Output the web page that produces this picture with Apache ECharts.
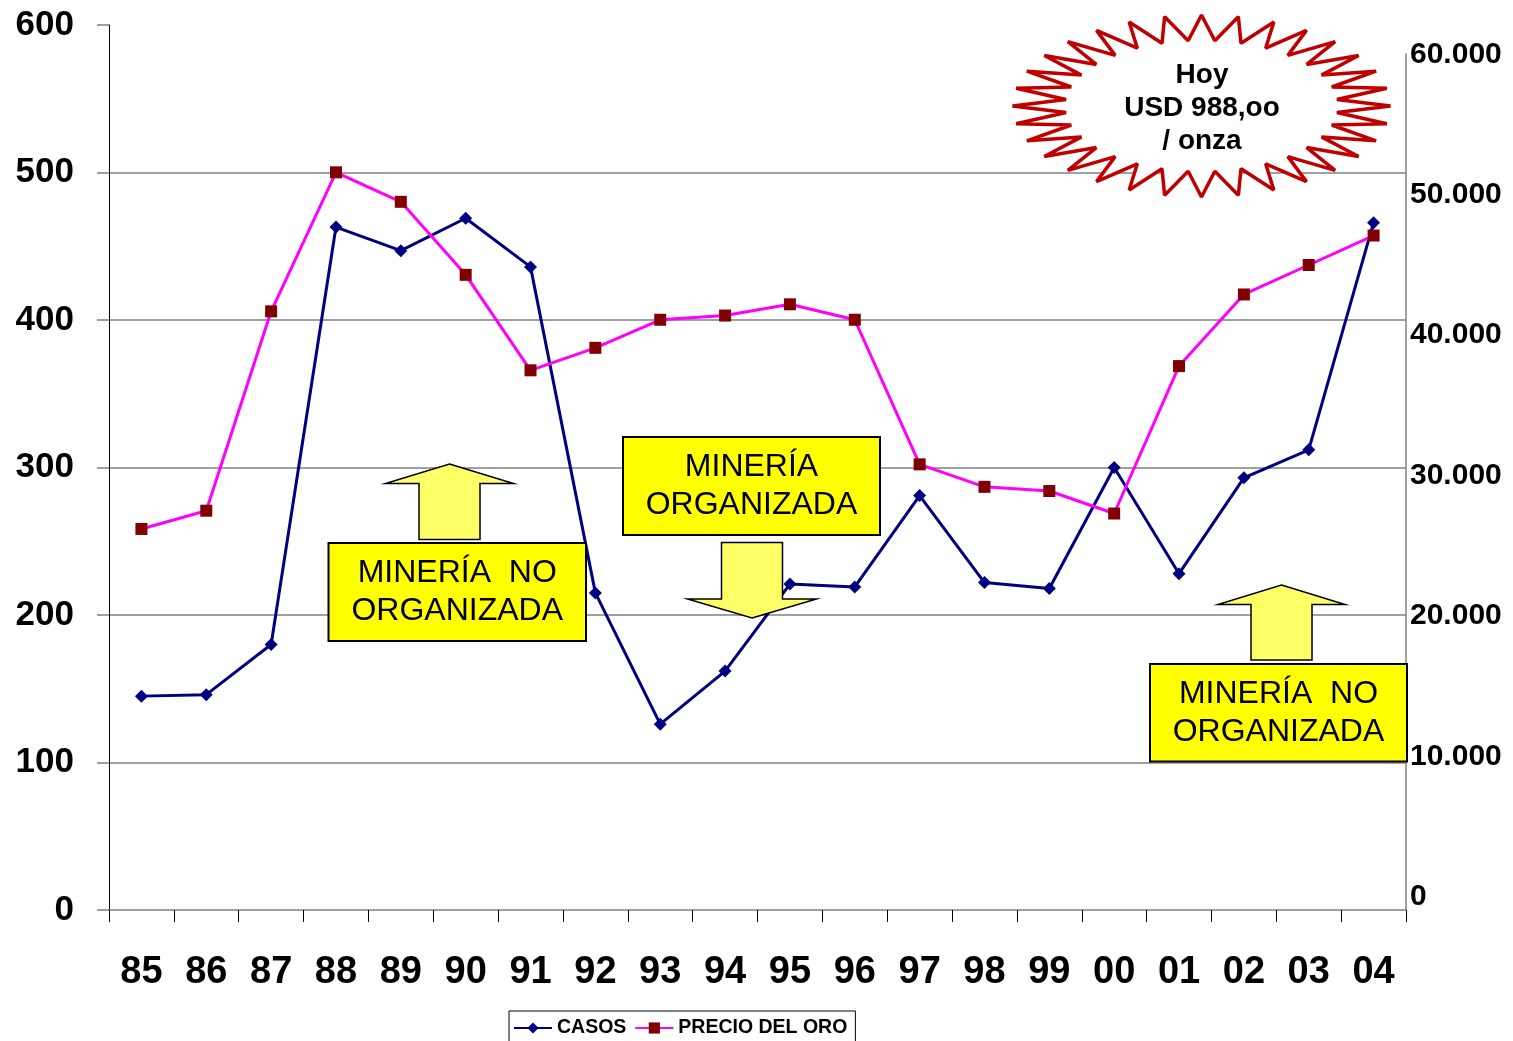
<!DOCTYPE html>
<html>
<head>
<meta charset="utf-8">
<script src="https://cdn.jsdelivr.net/npm/echarts@6/dist/echarts.min.js"></script>
<style>
  html, body { margin: 0; padding: 0; background: #ffffff; }
  #chart { width: 1513px; height: 1041px; }
</style>
</head>
<body>
<div id="chart"></div>
<script>
// Years on the category axis
const years = ['85', '86', '87', '88', '89', '90', '91', '92', '93', '94',
               '95', '96', '97', '98', '99', '00', '01', '02', '03', '04'];

// Number of cases per year (left axis)
const casos = [145, 146, 180, 463, 447, 469, 436, 215, 126, 162,
               221, 219, 281, 222, 218, 300, 228, 293, 312, 466];

// Gold price per year (right axis)
const precioOro = [26200, 27500, 41700, 51600, 49500, 44300, 37500, 39100, 41100, 41400,
                   42200, 41100, 30800, 29200, 28900, 27300, 37800, 42900, 45000, 47100];

// Axis tick values
const casosTicks = [0, 100, 200, 300, 400, 500, 600];
const precioTicks = [0, 10000, 20000, 30000, 40000, 50000, 60000];

// Series names
const seriesNames = ['CASOS', 'PRECIO DEL ORO'];

// Annotation texts
const notaHoy = 'Hoy\nUSD 988,oo\n/ onza';
const notaNoOrganizada = 'MINERÍA  NO\nORGANIZADA';
const notaOrganizada = 'MINERÍA\nORGANIZADA';

const FONT = '"Liberation Sans", Arial, sans-serif';

function miles(v) {
  return String(v).replace(/\B(?=(\d{3})+(?!\d))/g, '.');
}

// Jagged "explosion" outline around an ellipse
function starburst(cx, cy, rx, ry, spikes, inner) {
  const pts = [];
  for (let i = 0; i < spikes * 2; i++) {
    const a = i * Math.PI / spikes;
    const r = i % 2 === 0 ? 1 : inner;
    pts.push([cx + rx * r * Math.cos(a), cy - ry * r * Math.sin(a)]);
  }
  return pts;
}

// Block arrow: dir = -1 points up, +1 points down
function blockArrow(cx, tipY, headLen, headHalf, shaftHalf, shaftLen, dir) {
  const base = tipY - dir * headLen;
  const end = base - dir * shaftLen;
  return [
    [cx, tipY],
    [cx + headHalf, base],
    [cx + shaftHalf, base],
    [cx + shaftHalf, end],
    [cx - shaftHalf, end],
    [cx - shaftHalf, base],
    [cx - headHalf, base]
  ];
}

function noteBox(x, y, w, h, text) {
  return [
    {
      type: 'rect', z: 100,
      shape: { x: x, y: y, width: w, height: h },
      style: { fill: '#FFFF00', stroke: '#000000', lineWidth: 2 }
    },
    {
      type: 'text', z: 101,
      x: x + w / 2, y: y + h / 2,
      style: {
        text: text, fill: '#000000',
        font: '32px ' + FONT,
        align: 'center', verticalAlign: 'middle',
        lineHeight: 38
      }
    }
  ];
}

function arrowShape(points) {
  return {
    type: 'polygon', z: 99,
    shape: { points: points },
    style: { fill: '#FFFF66', stroke: '#000000', lineWidth: 1.5 }
  };
}

const chart = echarts.init(document.getElementById('chart'), null, { renderer: 'canvas' });

const graphics = [].concat(
  [
    {
      type: 'polygon', z: 100,
      shape: { points: starburst(1201.5, 106, 189, 91, 32, 0.72) },
      style: { fill: '#FFFFFF', stroke: '#C00000', lineWidth: 3.5, lineJoin: 'bevel' }
    },
    {
      type: 'text', z: 101,
      x: 1202, y: 108,
      style: {
        text: notaHoy, fill: '#000000',
        font: 'bold 28px ' + FONT,
        align: 'center', verticalAlign: 'middle',
        lineHeight: 33
      }
    },
    arrowShape(blockArrow(449.5, 464, 19.5, 64, 30.5, 56, -1)),
    arrowShape(blockArrow(752, 618, 19, 64.5, 30.5, 56.5, 1)),
    arrowShape(blockArrow(1281.5, 585, 19.5, 63.5, 30.5, 55.5, -1))
  ],
  noteBox(328.5, 543, 257.5, 98, notaNoOrganizada),
  noteBox(623, 437, 257, 98, notaOrganizada),
  noteBox(1150, 664, 257, 97.5, notaNoOrganizada)
);

const option = {
  backgroundColor: '#ffffff',
  animation: false,
  textStyle: { fontFamily: FONT },
  legend: {
    data: seriesNames,
    left: 509, top: 1011,
    orient: 'horizontal',
    itemWidth: 38, itemHeight: 14, itemGap: 8,
    padding: [7, 8, 6, 4],
    borderColor: '#000000', borderWidth: 1,
    textStyle: { fontSize: 19.5, fontWeight: 'bold', color: '#000000', fontFamily: FONT }
  },
  grid: [
    { left: 109, right: 107, top: 25, bottom: 131, containLabel: false },
    { left: 109, right: 107, top: 54, bottom: 131, containLabel: false }
  ],
  xAxis: [
    {
      type: 'category', gridIndex: 0, data: years, boundaryGap: true,
      axisLine: { show: true, lineStyle: { color: '#808080', width: 1.5 } },
      axisTick: { show: true, interval: 0, length: 12, lineStyle: { color: '#000000', width: 1 } },
      axisLabel: { interval: 0, margin: 44, fontSize: 38, fontWeight: 'bold', color: '#000000', fontFamily: FONT },
      splitLine: { show: false }
    },
    {
      type: 'category', gridIndex: 1, data: years, boundaryGap: true, show: false
    }
  ],
  yAxis: [
    {
      type: 'value', gridIndex: 0,
      min: casosTicks[0], max: casosTicks[casosTicks.length - 1], interval: 100,
      axisLine: { show: true, lineStyle: { color: '#000000', width: 1 } },
      axisTick: { show: true, length: 12, lineStyle: { color: '#808080', width: 1.5 } },
      axisLabel: { margin: 35, fontSize: 35, fontWeight: 'bold', color: '#000000', fontFamily: FONT },
      splitLine: { show: true, showMinLine: false, showMaxLine: false, lineStyle: { color: '#808080', width: 1.5 } }
    },
    {
      type: 'value', gridIndex: 1, position: 'right',
      min: -940, max: 60028,
      axisLine: { show: true, onZero: false, lineStyle: { color: '#808080', width: 1.5 } },
      axisTick: { show: false },
      axisLabel: {
        customValues: precioTicks,
        formatter: miles,
        margin: 4, fontSize: 30, fontWeight: 'bold', color: '#000000', fontFamily: FONT
      },
      splitLine: { show: false }
    }
  ],
  series: [
    {
      name: seriesNames[0], type: 'line',
      xAxisIndex: 0, yAxisIndex: 0,
      data: casos,
      symbol: 'diamond', symbolSize: 13,
      itemStyle: { color: '#000080' },
      lineStyle: { color: '#000080', width: 3 },
      z: 3
    },
    {
      name: seriesNames[1], type: 'line',
      xAxisIndex: 1, yAxisIndex: 1,
      data: precioOro,
      symbol: 'rect', symbolSize: 12,
      itemStyle: { color: '#800000' },
      lineStyle: { color: '#FF00FF', width: 3 },
      z: 4
    }
  ],
  graphic: graphics
};

chart.setOption(option);
</script>
</body>
</html>
